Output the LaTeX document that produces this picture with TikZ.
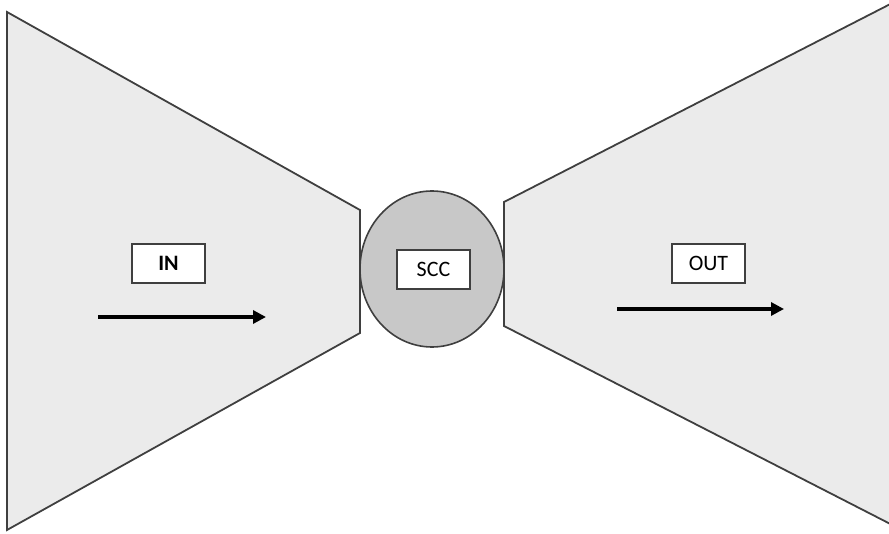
\documentclass[tikz,border=0pt]{standalone}
\usepackage{fontspec}
\setmainfont{Carlito}
\usetikzlibrary{arrows.meta,shapes.geometric}
\definecolor{fanfill}{HTML}{EBEBEB}
\definecolor{coreFill}{HTML}{C8C8C8}
\definecolor{edgegray}{HTML}{3F3F3F}
\tikzset{
  fan/.style={draw=edgegray, fill=fanfill, line width=1.8pt, line join=miter},
  core/.style={draw=edgegray, fill=coreFill, line width=1.6pt, ellipse},
  labeltext/.style={font=\fontsize{22}{26}\selectfont},
  labelbox/.style={draw=edgegray, fill=white, line width=1.5pt, minimum width=73pt, minimum height=39pt, inner sep=0pt, labeltext},
  flow/.style={line width=3.2pt, -{Triangle[length=13pt,width=13pt]}}
}
\begin{document}
\begin{tikzpicture}[x=1pt,y=-1pt]
\useasboundingbox (0,0) rectangle (889,534);
% incoming fan
\draw[fan] (7,12) -- (360,210) -- (360,333) -- (7,530) -- cycle;
% outgoing fan, open beyond the right edge
\draw[fan] (906,-4) -- (504,202) -- (504,326) -- (906,532);
% strongly connected core
\node[core, minimum width=144pt, minimum height=156pt, inner sep=0pt] (scc) at (432,269) {};
\node[labelbox] (scclabel) at (433.5,269.5) {SCC};
\node[labelbox, font=\fontsize{22}{26}\selectfont\bfseries] (inlabel) at (168.5,263.5) {IN};
\node[labelbox] (outlabel) at (708.5,263.5) {OUT};
\coordinate (inA) at (98,317);
\coordinate (inB) at (266,317);
\coordinate (outA) at (617,309);
\coordinate (outB) at (784,309);
\draw[flow] (inA) -- (inB);
\draw[flow] (outA) -- (outB);
\end{tikzpicture}
\end{document}
